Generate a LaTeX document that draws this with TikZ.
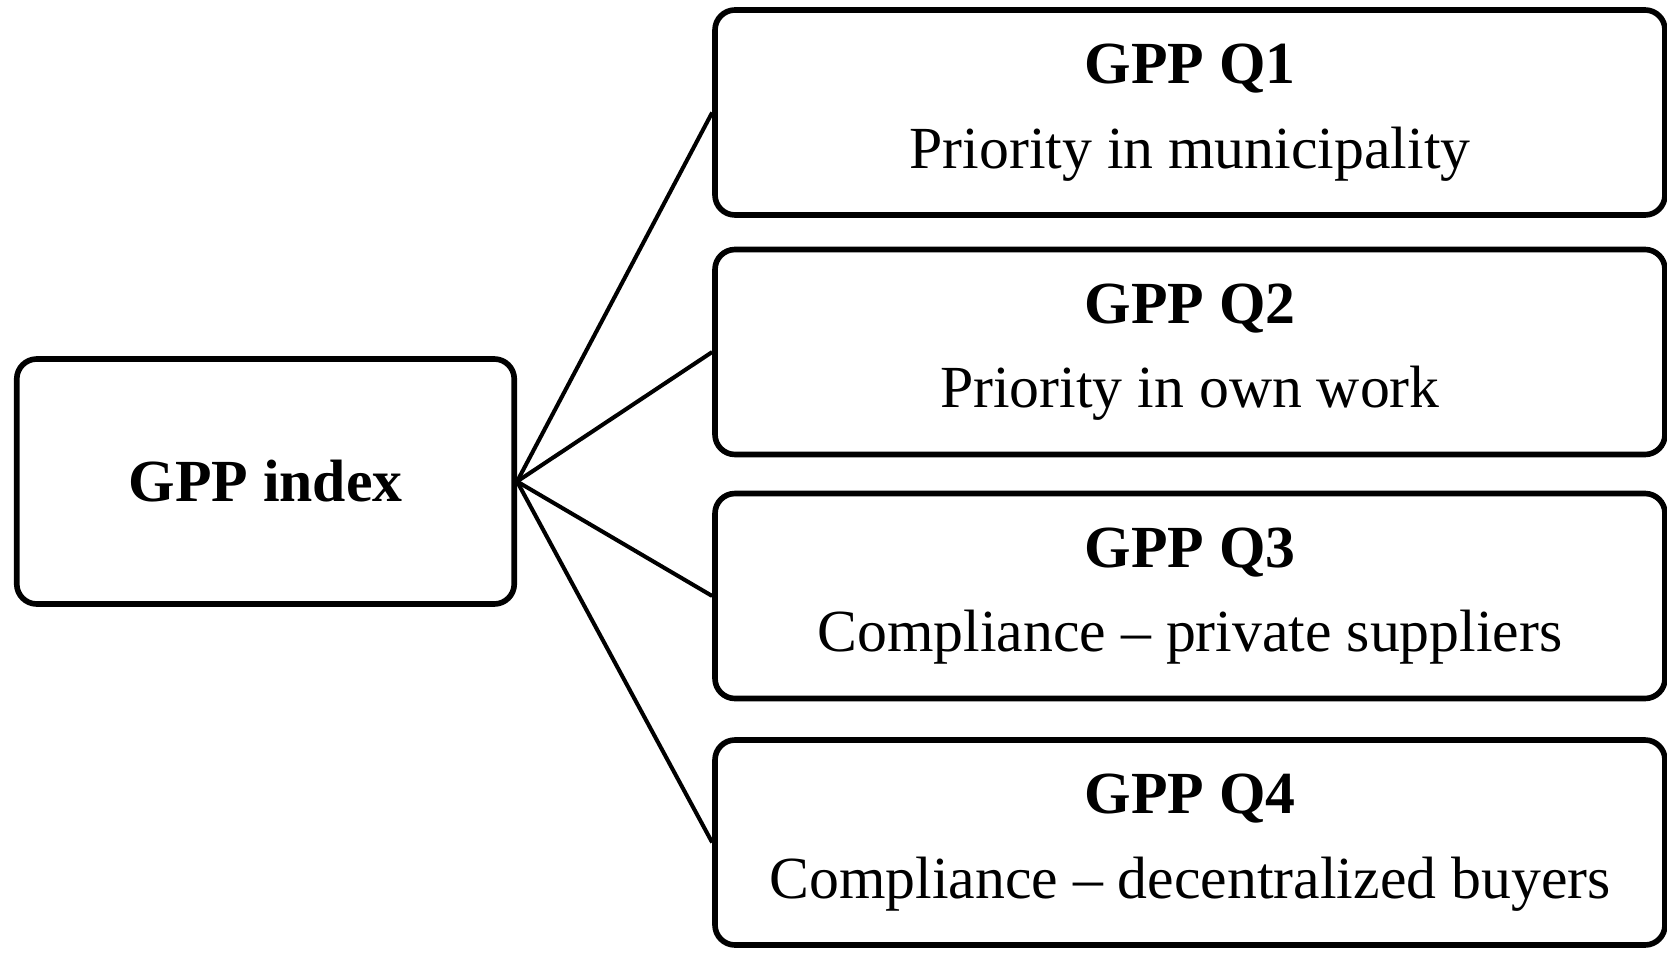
\documentclass[tikz,border=0pt]{standalone}
\usepackage{fontspec}
\setmainfont{Liberation Serif}
\begin{document}
\begin{tikzpicture}
	  \useasboundingbox (0,0) rectangle (33.34,19.04);
	  \tikzset{gbox/.style={draw,line width=3.2pt,rounded corners=0.4cm,align=center,font=\fontsize{34}{48}\selectfont}}
	  \node [gbox,minimum width=9.95cm,minimum height=4.9cm] at (5.31,9.41) (idx) {\textbf{GPP index}};
	  \foreach \i/\y/\t in {1/16.79/Priority in municipality, 2/12.0/Priority in own work, 3/7.12/Compliance -- private suppliers, 4/2.19/Compliance -- decentralized buyers}{
	  	\node [gbox,minimum width=19.0cm,minimum height=4.1cm] at (23.8,\y) (q\i) {\textbf{GPP Q\i}\\ \t};
	  }
	  \foreach \i in {1,...,4}{
	  	\draw [line width=2.3pt] (idx.east) -- (q\i.west);
	  }
	\end{tikzpicture}
\end{document}
